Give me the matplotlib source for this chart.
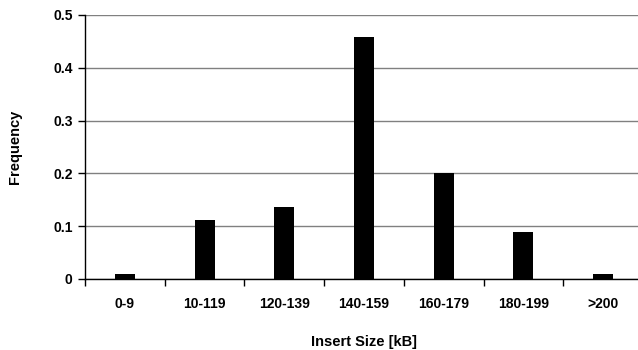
import matplotlib.pyplot as plt
import numpy as np

categories = ["0-9", "10-119", "120-139", "140-159", "160-179", "180-199", ">200"]
frequency = [0.009, 0.112, 0.136, 0.458, 0.200, 0.089, 0.009]

plt.rcParams['font.family'] = ['Liberation Sans', 'DejaVu Sans']
plt.rcParams['font.weight'] = 'bold'
plt.rcParams['axes.labelweight'] = 'bold'

fig = plt.figure(figsize=(6.38, 3.5), dpi=100)
W, H = 638, 350
left, right, top, bottom = 85, 643, 15, 279
ax = fig.add_axes([left / W, 1 - bottom / H, (right - left) / W, (bottom - top) / H])

x = np.arange(len(categories))
ax.bar(x, frequency, width=0.25, color='black', zorder=3)

ax.set_xlim(-0.5, len(categories) - 0.5)
ax.set_ylim(0, 0.5)
ax.set_yticks(np.arange(0, 0.51, 0.1))
ax.set_yticklabels(["0", "0.1", "0.2", "0.3", "0.4", "0.5"])
ax.yaxis.grid(True, color='#808080', linewidth=1.0, zorder=0)

# category boundaries carry the tick marks, labels sit in between
ax.set_xticks(np.arange(-0.5, len(categories), 1.0))
ax.set_xticklabels([])
ax.set_xticks(x, minor=True)
ax.set_xticklabels(categories, minor=True)
ax.tick_params(axis='x', which='minor', length=0, pad=13, labelsize=10)
ax.tick_params(axis='x', which='major', length=5, width=1, direction='out')
ax.tick_params(axis='y', length=5, width=1, direction='out', labelsize=10, pad=4)

for s in ['top', 'right']:
    ax.spines[s].set_visible(False)
ax.spines['left'].set_linewidth(1)
ax.spines['bottom'].set_linewidth(1)

ax.set_xlabel("Insert Size [kB]", fontsize=10.5, labelpad=17)
ax.set_ylabel("Frequency", fontsize=10.5, labelpad=22)

fig.savefig("out.png", dpi=100)
